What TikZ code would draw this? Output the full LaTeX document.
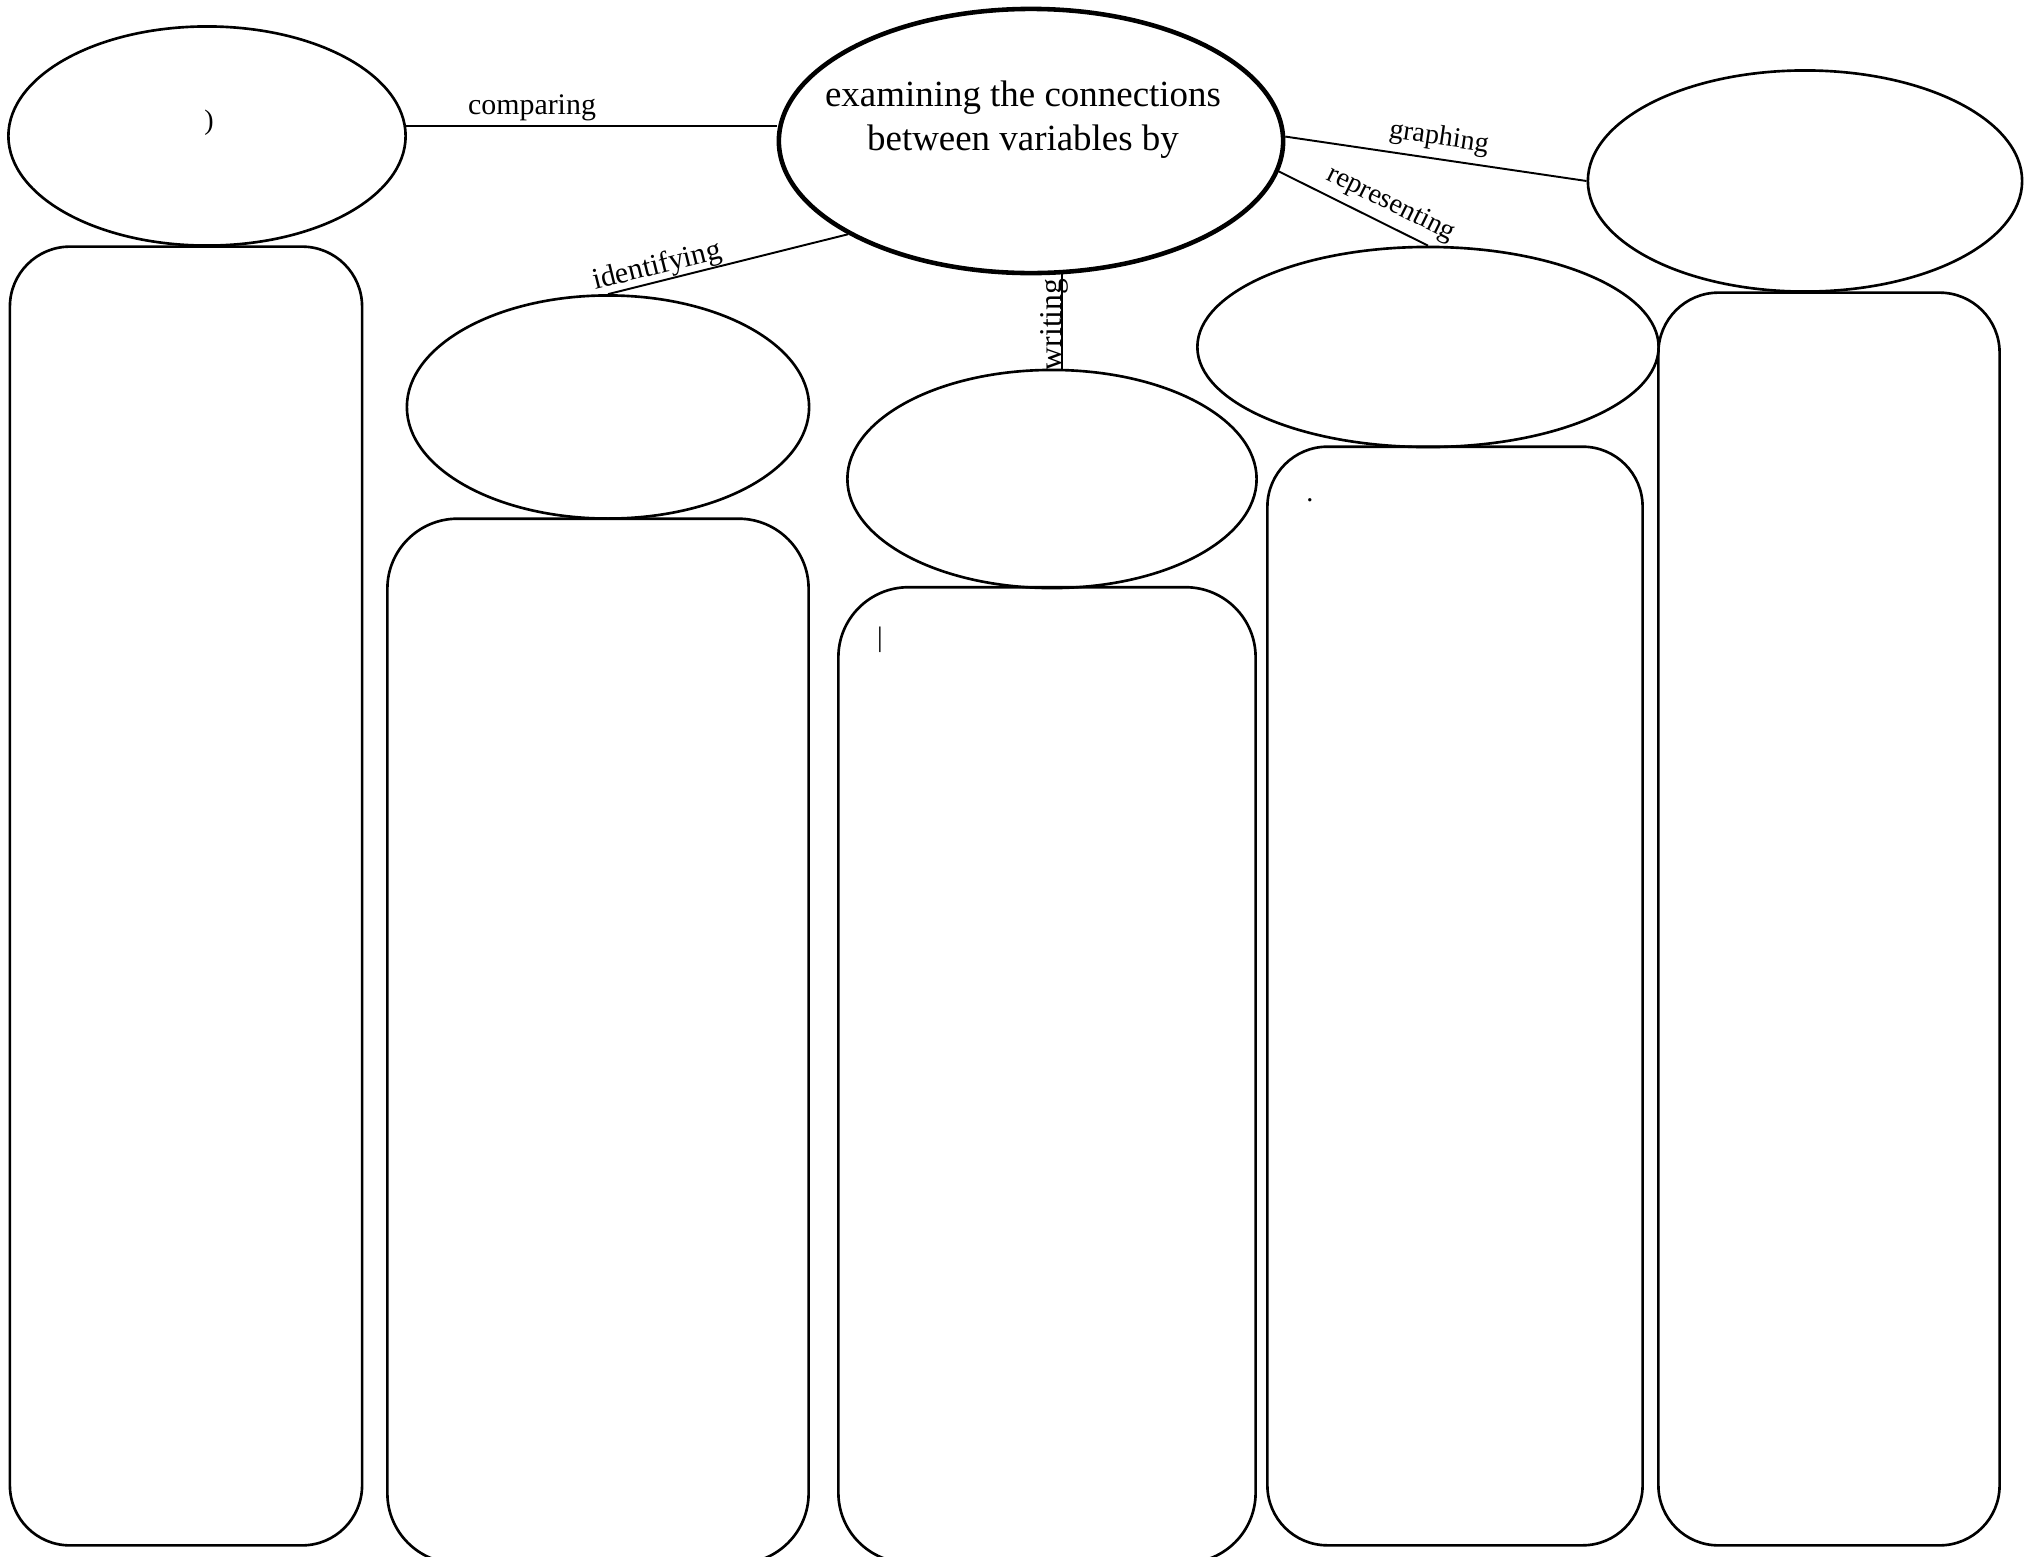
\documentclass[tikz,border=0pt]{standalone}
\usepackage{fontspec}
\setmainfont{Liberation Serif}
\usetikzlibrary{shapes.geometric}

\begin{document}
\begin{tikzpicture}[x=0.01cm,y=-0.01cm,
  bubble/.style={ellipse,draw,line width=0.75pt,inner sep=0pt},
  panel/.style={draw,line width=0.75pt,inner sep=0pt},
  tag/.style={font=\fontsize{8.5}{10}\selectfont,sloped,above,inner sep=1pt}]

  \useasboundingbox (0,0) rectangle (2026,1557);

  % ovals
  \node[bubble,minimum width=3.97cm,minimum height=2.19cm] (cmp) at (207,136) {};
  \node[bubble,line width=1.3pt,minimum width=5.04cm,minimum height=2.64cm] (exam) at (1031,141) {};
  \node[bubble,minimum width=4.34cm,minimum height=2.21cm] (graph) at (1805,181) {};
  \node[bubble,minimum width=4.02cm,minimum height=2.23cm] (ident) at (608,407) {};
  \node[bubble,minimum width=4.09cm,minimum height=2.18cm] (writ) at (1052,479) {};
  \node[bubble,minimum width=4.61cm,minimum height=2.00cm] (repr) at (1428,347) {};

  \node[align=center,font=\fontsize{10.5}{12.5}\selectfont] (examtxt) at (1023,120)
    {examining the connections\\between variables by};

  % columns
  \node[panel,rounded corners=0.6cm,minimum width=3.52cm,minimum height=12.98cm] (col1) at (186,896) {};
  \node[panel,rounded corners=0.7cm,minimum width=4.21cm,minimum height=10.44cm] (col2) at (598,1041) {};
  \node[panel,rounded corners=0.7cm,minimum width=4.17cm,minimum height=9.75cm] (col3) at (1047,1075) {};
  \node[panel,rounded corners=0.6cm,minimum width=3.75cm,minimum height=10.98cm] (col4) at (1455,996) {};
  \node[panel,rounded corners=0.6cm,minimum width=3.41cm,minimum height=12.52cm] (col5) at (1829,919) {};

  % stray marks
  \node[font=\fontsize{8}{9}\selectfont] (paren) at (209,123) {)};
  \node[font=\fontsize{8}{9}\selectfont] (bar) at (880,640) {|};
  \node[font=\fontsize{8}{9}\selectfont] (dot) at (1310,500) {.};

\path[every edge/.style={draw,line width=0.55pt}]
  (cmp.3) edge node[tag,pos=0.34] {comparing} (cmp.3 -| exam.west)
  (ident.north) edge node[tag,pos=0.22,inner sep=0pt] {identifying} (exam.207)
  (exam.283) edge node[font=\fontsize{9}{10}\selectfont,rotate=90,anchor=base,inner sep=0pt,pos=0.53] {writing} (exam.283 |- writ.north)
  (exam.1) edge node[tag,pos=0.5,inner sep=2pt,font=\fontsize{8}{9}\selectfont] {graphing} (graph.west)
  (exam.353) edge node[tag,pos=0.69,inner sep=2pt,font=\fontsize{8}{9}\selectfont] {representing} (repr.north);
\end{tikzpicture}
\end{document}
